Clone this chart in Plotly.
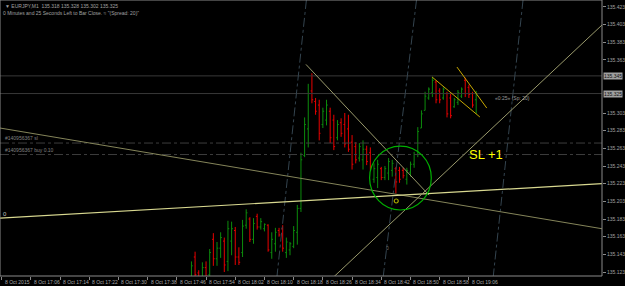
import plotly.graph_objects as go

# ---------------- data ----------------
# minute index from 17:00 (8 Oct 2015), M1 bars EURJPY
bar_minute = list(range(50, 129))
bar_open = [135.118, 135.140, 135.122, 135.115, 135.128, 135.120, 135.160, 135.138, 135.150, 135.158,
            135.135, 135.158, 135.170, 135.140, 135.145, 135.176, 135.183, 135.160, 135.186, 135.174,
            135.172, 135.176, 135.145, 135.155, 135.170, 135.172, 135.145, 135.148, 135.152, 135.168,
            135.195, 135.255, 135.285, 135.328, 135.316, 135.312, 135.290, 135.295, 135.305, 135.295,
            135.275, 135.292, 135.290, 135.285, 135.270, 135.265, 135.252, 135.250, 135.262, 135.258,
            135.228, 135.230, 135.240, 135.230, 135.235, 135.238, 135.240, 135.238, 135.238, 135.228,
            135.236, 135.245, 135.256, 135.286, 135.306, 135.320, 135.326, 135.338, 135.328, 135.320,
            135.325, 135.320, 135.310, 135.315, 135.322, 135.340, 135.332, 135.325, 135.318]
bar_high = [135.135, 135.146, 135.125, 135.134, 135.135, 135.149, 135.167, 135.157, 135.168, 135.162,
            135.181, 135.180, 135.174, 135.151, 135.182, 135.194, 135.185, 135.184, 135.189, 135.184,
            135.178, 135.177, 135.168, 135.173, 135.173, 135.176, 135.162, 135.157, 135.175, 135.199,
            135.258, 135.298, 135.336, 135.348, 135.320, 135.318, 135.309, 135.318, 135.309, 135.301,
            135.295, 135.297, 135.303, 135.301, 135.278, 135.270, 135.269, 135.272, 135.266, 135.264,
            135.246, 135.250, 135.242, 135.243, 135.252, 135.250, 135.242, 135.242, 135.241, 135.241,
            135.248, 135.259, 135.287, 135.306, 135.327, 135.332, 135.344, 135.340, 135.331, 135.332,
            135.327, 135.326, 135.320, 135.329, 135.332, 135.343, 135.335, 135.327, 135.328]
bar_low = [135.110, 135.110, 135.112, 135.110, 135.110, 135.112, 135.130, 135.130, 135.139, 135.123,
           135.124, 135.142, 135.131, 135.131, 135.140, 135.172, 135.157, 135.155, 135.171, 135.171,
           135.169, 135.146, 135.138, 135.146, 135.163, 135.146, 135.139, 135.142, 135.150, 135.154,
           135.191, 135.253, 135.264, 135.314, 135.301, 135.272, 135.286, 135.289, 135.269, 135.261,
           135.272, 135.276, 135.264, 135.259, 135.239, 135.246, 135.248, 135.239, 135.244, 135.238,
           135.224, 135.218, 135.227, 135.227, 135.227, 135.231, 135.212, 135.224, 135.229, 135.222,
           135.231, 135.241, 135.253, 135.286, 135.306, 135.318, 135.321, 135.314, 135.314, 135.318,
           135.298, 135.297, 135.309, 135.312, 135.320, 135.321, 135.320, 135.309, 135.302]
bar_close = [135.130, 135.120, 135.116, 135.128, 135.118, 135.145, 135.138, 135.150, 135.162, 135.131,
             135.172, 135.172, 135.140, 135.134, 135.175, 135.190, 135.160, 135.178, 135.174, 135.180,
             135.177, 135.148, 135.160, 135.168, 135.165, 135.150, 135.157, 135.155, 135.170, 135.195,
             135.250, 135.290, 135.325, 135.318, 135.305, 135.280, 135.305, 135.312, 135.275, 135.265,
             135.290, 135.280, 135.268, 135.262, 135.245, 135.250, 135.265, 135.262, 135.248, 135.242,
             135.240, 135.245, 135.230, 135.240, 135.248, 135.246, 135.225, 135.228, 135.232, 135.238,
             135.245, 135.256, 135.282, 135.302, 135.322, 135.330, 135.340, 135.318, 135.318, 135.330,
             135.302, 135.300, 135.318, 135.326, 135.330, 135.325, 135.324, 135.312, 135.325]

x_tick_minutes = [-2, 6, 14, 22, 30, 38, 46, 54, 62, 70, 78, 86, 94, 102, 110, 118, 126]
x_tick_labels = ["8 Oct 2015", "8 Oct 17:06", "8 Oct 17:14", "8 Oct 17:22", "8 Oct 17:30",
                 "8 Oct 17:38", "8 Oct 17:46", "8 Oct 17:54", "8 Oct 18:02", "8 Oct 18:10",
                 "8 Oct 18:18", "8 Oct 18:26", "8 Oct 18:34", "8 Oct 18:42", "8 Oct 18:50",
                 "8 Oct 18:58", "8 Oct 19:06"]
y_tick_vals = [135.423, 135.403, 135.383, 135.363, 135.303, 135.283, 135.263,
               135.243, 135.223, 135.203, 135.183, 135.163, 135.143, 135.123]
bid_price = 135.325
ask_price = 135.345
sl_price = 135.269
buy_price = 135.256

# trend lines: (minute0, price0, minute1, price1)
line_a = (-2.44, 135.286, 162.46, 135.172)
line_b = (-2.44, 135.184, 162.46, 135.223)
line_c = (86.27, 135.107, 162.46, 135.4026)
line_d = (81.37, 135.358, 115.1, 135.210)
line_e1 = (122.73, 135.355, 130.9, 135.3086)
line_e2 = (115.93, 135.3437, 129.0, 135.2985)
dot_lines = [(79.74, 135.363, 73.76, 135.131),
             (109.67, 135.363, 104.5, 135.1855),
             (139.06, 135.363, 134.43, 135.1855)]
circle_box = (98.8, 135.2656, 115.7, 135.1932)

X_RANGE = [-2.44, 162.46]
Y_RANGE = [135.1185, 135.4309]

# ---------------- figure ----------------
fig = go.Figure()

fig.add_trace(go.Ohlc(
    x=bar_minute, open=bar_open, high=bar_high, low=bar_low, close=bar_close,
    increasing=dict(line=dict(color="#0c8c0c", width=1)),
    decreasing=dict(line=dict(color="#e80000", width=1)),
    tickwidth=0.35, hoverinfo="skip", showlegend=False))

shapes = []
def seg_shape(seg, color, width=1, dash="solid"):
    m0, p0, m1, p1 = seg
    shapes.append(dict(type="line", xref="x", yref="y", x0=m0, y0=p0, x1=m1, y1=p1,
                       line=dict(color=color, width=width, dash=dash), layer="above"))

# horizontal lines
for p in (ask_price, bid_price):
    shapes.append(dict(type="line", xref="paper", yref="y", x0=0, x1=1, y0=p, y1=p,
                       line=dict(color="#383838", width=1)))
for p in (sl_price, buy_price):
    shapes.append(dict(type="line", xref="paper", yref="y", x0=0, x1=1, y0=p, y1=p,
                       line=dict(color="#3c3c3c", width=1, dash="dashdot")))

for d in dot_lines:
    m0, p0, m1, p1 = d
    s = (m1 - m0) / (p1 - p0)
    seg_shape((m0 + s * (Y_RANGE[1] - p0), Y_RANGE[1], m0 + s * (Y_RANGE[0] - p0), Y_RANGE[0]),
              "#34444f", 1, "dashdot")

seg_shape(line_a, "#85855a", 1)
seg_shape(line_b, "#d8d890", 1.2)
seg_shape(line_c, "#9a9a6c", 1)
seg_shape(line_d, "#9a9a6c", 1)
seg_shape(line_e1, "#c8a800", 1)
seg_shape(line_e2, "#c8a800", 1)

shapes.append(dict(type="circle", xref="x", yref="y",
                   x0=circle_box[0], y0=circle_box[1], x1=circle_box[2], y1=circle_box[3],
                   line=dict(color="#00b000", width=1.2)))

# frame
shapes.append(dict(type="rect", xref="paper", yref="paper", x0=0, y0=0, x1=1, y1=1,
                   line=dict(color="#8a8a8a", width=1)))

fig.add_trace(go.Scatter(x=[106.1], y=[135.2034], mode="markers",
                         marker=dict(symbol="circle-open", size=4, color="#a8a800", line=dict(width=1.2)),
                         hoverinfo="skip", showlegend=False))

FONT = "Liberation Sans"
ann = []
for m, t in zip(x_tick_minutes, x_tick_labels):
    ann.append(dict(x=m, y=0, xref="x", yref="paper", text=t, showarrow=False,
                    xanchor="left", yanchor="top", xshift=1, yshift=-1,
                    font=dict(family=FONT, size=5, color="#a8a8a8")))
for p in (ask_price, bid_price):
    ann.append(dict(x=1, y=p, xref="paper", yref="y", text=f"{p:.3f}", showarrow=False,
                    xanchor="left", yanchor="middle", xshift=1,
                    bgcolor="#a0a0a0", borderpad=0,
                    font=dict(family=FONT, size=5, color="#101010")))
ann += [
    dict(x=0, y=1, xref="paper", yref="paper", xanchor="left", yanchor="top", xshift=3, yshift=-1,
         text="▼ EURJPY,M1  135.318 135.328 135.302 135.325", showarrow=False,
         font=dict(family=FONT, size=5, color="#a0a0a0")),
    dict(x=0, y=1, xref="paper", yref="paper", xanchor="left", yanchor="top", xshift=1, yshift=-8,
         text="0 Minutes and 25 Seconds Left to Bar Close. ≈ \"(Spread: 20)\"", showarrow=False,
         font=dict(family=FONT, size=5, color="#a0a0a0")),
    dict(x=0, y=sl_price, xref="paper", yref="y", xanchor="left", yanchor="bottom", xshift=3,
         text="#140956367 sl", showarrow=False, font=dict(family=FONT, size=5, color="#808080")),
    dict(x=0, y=buy_price, xref="paper", yref="y", xanchor="left", yanchor="bottom", xshift=3,
         text="#140956367 buy 0.10", showarrow=False, font=dict(family=FONT, size=5, color="#808080")),
    dict(x=0, y=135.189, xref="paper", yref="y", xanchor="left", yanchor="middle", xshift=1,
         text="0", showarrow=False, font=dict(family=FONT, size=6, color="#c0c0c0")),
    dict(x=103.6, y=135.150, xref="x", yref="y", xanchor="center", yanchor="middle",
         text="0", showarrow=False, font=dict(family=FONT, size=5, color="#707070")),
    dict(x=130.6, y=135.256, xref="x", yref="y", xanchor="center", yanchor="middle",
         text="SL +1", showarrow=False, font=dict(family=FONT, size=13, color="#ffff00")),
    dict(x=132.5, y=135.320, xref="x", yref="y", xanchor="left", yanchor="middle",
         text="«0:25» (Sp: 20)", showarrow=False, font=dict(family=FONT, size=5, color="#9a9a9a")),
]

fig.update_layout(
    width=625, height=286,
    margin=dict(l=0, r=19, t=0, b=10),
    paper_bgcolor="#000000", plot_bgcolor="#000000",
    shapes=shapes, annotations=ann, showlegend=False,
    xaxis=dict(range=X_RANGE, showgrid=False, zeroline=False, showticklabels=False,
               tickvals=x_tick_minutes, ticks="outside", ticklen=3, tickcolor="#8a8a8a",
               showline=False, rangeslider=dict(visible=False), fixedrange=True),
    yaxis=dict(range=Y_RANGE, side="right", showgrid=False, zeroline=False,
               tickvals=y_tick_vals, ticktext=[f"{v:.3f}" for v in y_tick_vals],
               ticks="outside", ticklen=3, tickcolor="#8a8a8a",
               tickfont=dict(family=FONT, size=5, color="#a0a0a0"),
               showline=False, fixedrange=True),
)

fig.write_html("out.html")
